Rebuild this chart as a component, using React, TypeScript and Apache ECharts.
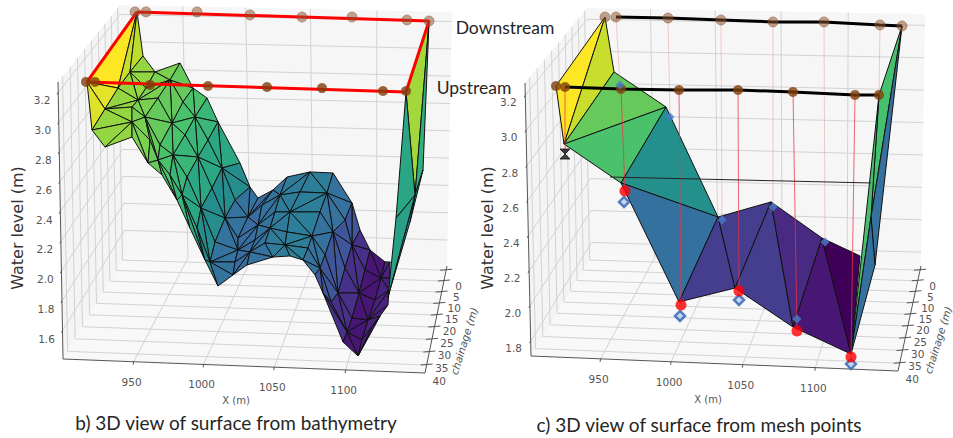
import React, { useEffect, useRef } from "react";
import * as echarts from "echarts";

// Tick labels of the three axes (both panels use the same X and chainage ticks)
const xTicks = [950, 1000, 1050, 1100];
const chainageTicks = [0, 5, 10, 15, 20, 25, 30, 35, 40];
const levelTicksB = [1.6, 1.8, 2.0, 2.2, 2.4, 2.6, 2.8, 3.0, 3.2];
const levelTicksC = [1.8, 2.0, 2.2, 2.4, 2.6, 2.8, 3.0, 3.2];

// A single projected view cannot give true (X, chainage, level) triples, so every
// mesh vertex and marker below is [apparent X, apparent level] read against the front plane.

// Panel b: bathymetry surface, one list per mesh column, from the upper to the lower edge
const bathyColumns: number[][][] = [
  [[955.6, 3.445], [946.5, 3.338], [938.1, 3.23], [929.0, 3.09], [919.9, 2.949], [929.0, 2.835]],
  [[964.0, 3.338], [957.7, 3.23], [952.1, 3.15], [947.9, 3.103], [947.9, 3.003], [947.9, 2.902]],
  [[981.5, 3.398], [974.5, 3.284], [966.1, 3.163], [957.0, 3.036], [960.5, 2.882], [959.1, 2.728]],
  [[990.6, 3.23], [983.6, 3.137], [975.9, 2.996], [967.5, 2.849], [966.1, 2.748], [968.9, 2.648]],
  [[1000.4, 3.163], [992.0, 3.036], [985.0, 2.916], [976.6, 2.782], [974.5, 2.648], [979.4, 2.48]],
  [[1008.1, 3.003], [1001.1, 2.882], [994.1, 2.768], [986.4, 2.634], [982.9, 2.514], [988.5, 2.292]],
  [[1023.5, 2.728], [1010.9, 2.694], [1003.9, 2.56], [996.2, 2.426], [993.4, 2.292], [999.0, 2.078]],
  [[1030.5, 2.567], [1020.0, 2.48], [1013.0, 2.359], [1006.0, 2.199], [1002.5, 2.065], [1008.1, 1.904]],
  [[1036.1, 2.493], [1029.1, 2.366], [1022.1, 2.225], [1022.1, 2.145], [1020.0, 2.065], [1018.6, 1.978]],
  [[1046.6, 2.547], [1038.9, 2.446], [1036.1, 2.313], [1034.0, 2.212], [1030.5, 2.132], [1028.4, 2.045]],
  [[1056.4, 2.634], [1051.5, 2.514], [1048.0, 2.4], [1044.5, 2.292], [1041.0, 2.192], [1046.6, 2.098]],
  [[1072.5, 2.668], [1065.5, 2.534], [1058.5, 2.4], [1056.4, 2.266], [1055.0, 2.179], [1058.5, 2.105]],
  [[1088.6, 2.661], [1084.4, 2.527], [1079.5, 2.4], [1073.9, 2.239], [1071.1, 2.158], [1067.6, 2.078]],
  [[1101.9, 2.46], [1097.0, 2.346], [1088.6, 2.266], [1083.0, 2.112], [1079.5, 2.024], [1076.0, 1.978]],
  [[1107.5, 2.279], [1101.9, 2.179], [1097.0, 2.024], [1092.1, 1.857], [1087.2, 1.797], [1081.6, 1.857]],
  [[1114.5, 2.145], [1111.0, 2.011], [1106.8, 1.857], [1101.9, 1.689], [1098.4, 1.596], [1095.6, 1.529]],
  [[1125.0, 2.065], [1122.2, 1.957], [1118.0, 1.81], [1113.1, 1.676], [1108.9, 1.542], [1106.1, 1.435]],
  [[1128.5, 2.065], [1128.5, 1.957], [1127.8, 1.877], [1127.1, 1.777], [1121.5, 1.703], [1115.9, 1.629]],
];
// Shade (0 = lowest level, 1 = highest level) of each column above
const bathyShade = [0.86, 0.82, 0.78, 0.74, 0.68, 0.62, 0.55, 0.42, 0.32, 0.34, 0.4, 0.43, 0.41, 0.32, 0.2, 0.12, 0.03, 0.2];
// Bank vertices: top-left bank, upstream-left bank, then the right bank wall
const bathyBank = [
  [951.4, 3.74], [916.4, 3.271], [1139.7, 3.204], [1155.8, 3.673], [1146.0, 2.513],
  [1132.7, 2.359], [1127.1, 1.83], [1151.6, 2.681], [1142.5, 2.333],
];
// [vertex, vertex, vertex, shade]; 108+ index the bank list, 0..5 the first column
const bathyBankLeftFaces = [
  [108, 109, 2, 1], [108, 2, 1, 0.92], [108, 1, 0, 0.9], [109, 2, 3, 0.96], [109, 3, 4, 0.95],
];
const bathyBankRightFaces = [
  [110, 111, 112, 0.86], [111, 112, 115, 0.62], [112, 115, 116, 0.5], [112, 116, 114, 0.42],
  [110, 113, 112, 0.58], [113, 112, 114, 0.56],
];
const bathyUpstream = [
  [915.7, 3.271], [922.0, 3.271], [960.5, 3.251], [1001.1, 3.244],
  [1042.4, 3.237], [1080.9, 3.23], [1123.6, 3.21], [1139.7, 3.21],
];
const bathyDownstream = [
  [950.0, 3.74], [957.7, 3.74], [993.4, 3.74], [1030.5, 3.72],
  [1066.9, 3.706], [1101.9, 3.706], [1140.4, 3.686], [1155.8, 3.679],
];
const bathyRedFrame = [[951.4, 3.74], [1155.8, 3.679], [1139.7, 3.204], [916.4, 3.271], [951.4, 3.74]];

// Panel c: surface from mesh points
const meshVertices = [
  [951.5, 3.648], [917.2, 3.255], [922.8, 2.924], [957.8, 3.335], [994.2, 3.135], [962.7, 2.702],
  [1030.6, 2.508], [1003.3, 2.024], [1042.5, 2.103], [1067.7, 2.594], [1083.1, 1.881], [1103.4, 2.388],
  [1123.7, 1.727], [1130.0, 2.286], [1159.4, 3.597], [1143.3, 3.203], [1137.7, 2.508], [1140.5, 2.234],
];
const meshFaces = [
  [0, 1, 2, 1], [0, 2, 3, 0.92], [2, 3, 4, 0.76], [2, 4, 5, 0.71], [5, 4, 6, 0.5], [5, 6, 7, 0.36],
  [6, 7, 8, 0.2], [6, 8, 9, 0.2], [8, 9, 10, 0.2], [9, 10, 11, 0.14], [10, 11, 12, 0.08], [11, 12, 13, 0],
  [14, 15, 16, 0.7], [15, 16, 12, 0.7], [14, 16, 17, 0.36], [16, 17, 12, 0.36],
];
const meshUpstream = [
  [917.2, 3.255], [923.5, 3.249], [962.7, 3.238], [1003.3, 3.232],
  [1044.6, 3.232], [1083.1, 3.221], [1126.5, 3.204], [1143.3, 3.204],
];
const meshDownstream = [
  [951.5, 3.648], [959.2, 3.648], [995.6, 3.642], [1032.7, 3.631],
  [1069.1, 3.62], [1104.8, 3.62], [1144.0, 3.603], [1159.4, 3.597],
];
const meshRedDots = [[965.5, 2.656], [1004.7, 2.007], [1045.3, 2.086], [1085.9, 1.858], [1123.7, 1.71]];
const meshLowDiamonds = [[964.8, 2.594], [1004.0, 1.944], [1045.3, 2.035], [1123.7, 1.67]];
const meshSurfaceDiamonds = [[962.0, 3.261], [997.0, 3.078], [1033.4, 2.491], [1069.1, 2.565], [1105.5, 2.366], [1085.9, 1.927]];
const meshFaintEnds = [[962.0, 3.261], [997.0, 3.078], [1033.4, 2.491], [1069.1, 2.565], [1105.5, 2.366], [1143.3, 3.203]];
const meshHourglass = [[923.5, 2.867]];
const meshThinLine = [[955.0, 2.736], [1137.7, 2.702]];

const SHADES = ["#3f0158", "#4a1c7c", "#453e8e", "#3d66a2", "#30799c", "#23908c", "#2cab82", "#45c06e", "#7ad14f", "#bcdc2e", "#fde725"];
const shadeColor = (t: number) => echarts.color.lerp(Math.max(0, Math.min(1, t)), SHADES) as string;

type Pt = number[];
function homography(p: Pt[]) {
  const [[x0, y0], [x1, y1], [x2, y2], [x3, y3]] = p;
  const dx1 = x1 - x2, dx2 = x3 - x2, sx = x0 - x1 + x2 - x3;
  const dy1 = y1 - y2, dy2 = y3 - y2, sy = y0 - y1 + y2 - y3;
  const den = dx1 * dy2 - dx2 * dy1;
  const g = (sx * dy2 - dx2 * sy) / den;
  const h = (dx1 * sy - sx * dy1) / den;
  const a = x1 - x0 + g * x1, b = x3 - x0 + h * x3;
  const d = y1 - y0 + g * y1, e = y3 - y0 + h * y3;
  return (u: number, v: number) => {
    const w = g * u + h * v + 1;
    return [(a * u + b * v + x0) / w, (d * u + e * v + y0) / w];
  };
}

type Box = {
  floor: Pt[]; top: Pt[];
  xLim: number[]; cLim: number[]; zLim: number[];
  zTicks: number[];
  zLabelOffset: number[]; xLabelOffset: number[]; cLabelOffset: number[];
  titleX: number; titleY: number; xTitle: number[]; cTitle: number[];
};

const boxB: Box = {
  floor: [[125, 256], [447, 266], [425, 373], [63, 359]],
  top: [[120, 5], [452, 12], [430, 96], [58, 82]],
  xLim: [899, 1155], cLim: [-2, 43], zLim: [1.41, 3.27],
  zTicks: levelTicksB,
  zLabelOffset: [-16, 8], xLabelOffset: [-2, 20], cLabelOffset: [12.5, 16],
  titleX: 17, titleY: 228, xTitle: [236, 400], cTitle: [464, 341],
};
const boxC: Box = {
  floor: [[592, 256], [921, 266], [898, 371], [531, 356]],
  top: [[587, 8], [925, 14], [903, 94], [525, 83]],
  xLim: [900, 1156], cLim: [-2, 43], zLim: [1.715, 3.27],
  zTicks: levelTicksC,
  zLabelOffset: [-17, 7], xLabelOffset: [-2, 20], cLabelOffset: [12.5, 16],
  titleX: 487, titleY: 228, xTitle: [708, 399], cTitle: [938, 340],
};

function frameChildren(b: Box) {
  const fl = homography(b.floor), tp = homography(b.top);
  const P = (x: number, c: number, z: number) => {
    const u = (x - b.xLim[0]) / (b.xLim[1] - b.xLim[0]);
    const v = (c - b.cLim[0]) / (b.cLim[1] - b.cLim[0]);
    const w = (z - b.zLim[0]) / (b.zLim[1] - b.zLim[0]);
    const f = fl(u, v), t = tp(u, v);
    return [f[0] + (t[0] - f[0]) * w, f[1] + (t[1] - f[1]) * w];
  };
  const [x0, x1] = b.xLim, [c0, c1] = b.cLim, [z0, z1] = b.zLim;
  const out: any[] = [];
  const poly = (pts: Pt[], fill: string) => out.push({ type: "polygon", shape: { points: pts }, style: { fill, stroke: "none" } });
  const line = (p: Pt, q: Pt, stroke: string, lineWidth = 1) =>
    out.push({ type: "line", shape: { x1: p[0], y1: p[1], x2: q[0], y2: q[1] }, style: { stroke, lineWidth } });
  const text = (s: string, p: Pt, font: string, fill = "#555555", rotation = 0) =>
    out.push({ type: "text", x: p[0], y: p[1], rotation, style: { text: s, font, fill, align: "center", verticalAlign: "middle" } });

  poly([P(x0, c0, z0), P(x1, c0, z0), P(x1, c0, z1), P(x0, c0, z1)], "#f6f6f6");
  poly([P(x0, c0, z0), P(x0, c1, z0), P(x0, c1, z1), P(x0, c0, z1)], "#f4f4f4");
  poly([P(x0, c0, z0), P(x1, c0, z0), P(x1, c1, z0), P(x0, c1, z0)], "#f8f8f8");

  const grid = "#d2d2d2";
  xTicks.forEach((x) => {
    line(P(x, c1, z0), P(x, c0, z0), grid);
    line(P(x, c0, z0), P(x, c0, z1), grid);
  });
  chainageTicks.forEach((c) => {
    line(P(x0, c, z0), P(x1, c, z0), grid);
    line(P(x0, c, z0), P(x0, c, z1), grid);
  });
  b.zTicks.forEach((z) => {
    line(P(x0, c1, z), P(x0, c0, z), grid);
    line(P(x0, c0, z), P(x1, c0, z), grid);
  });

  const axis = "#555555";
  line(P(x0, c1, z0), P(x0, c1, z1), axis);
  line(P(x0, c1, z0), P(x1, c1, z0), axis);
  line(P(x1, c0, z0), P(x1, c1, z0), axis);

  const font = '10.5px "DejaVu Sans"';
  xTicks.forEach((x) => {
    const p = P(x, c1, z0);
    line(p, [p[0] - 0.5, p[1] + 3], axis);
    text(String(x), [p[0] + b.xLabelOffset[0], p[1] + b.xLabelOffset[1]], font);
  });
  chainageTicks.forEach((c) => {
    const p = P(x1, c, z0);
    line([p[0] - 6, p[1]], [p[0] + 6, p[1] - 1], axis);
    text(String(c), [p[0] + b.cLabelOffset[0], p[1] + b.cLabelOffset[1]], font);
  });
  b.zTicks.forEach((z) => {
    const p = P(x0, c1, z);
    line(p, [p[0] - 1, p[1] + 2], axis);
    text(z.toFixed(1), [p[0] + b.zLabelOffset[0], p[1] + b.zLabelOffset[1]], font);
  });
  text("Water level (m)", [b.titleX, b.titleY], '16px "DejaVu Sans"', "#333333", Math.PI / 2);
  text("X (m)", b.xTitle, '10px "DejaVu Sans"');
  text("chainage (m)", b.cTitle, 'italic 10.5px "DejaVu Sans"', "#555555", 1.27);
  return out;
}

const frameSeries = (b: Box, z: number) => ({
  type: "custom",
  coordinateSystem: "none",
  silent: true,
  z,
  data: [[0]],
  renderItem: () => ({ type: "group", children: frameChildren(b) }),
});

const faceSeries = (vertices: number[][], faces: number[][], axis: number) => ({
  type: "custom",
  coordinateSystem: "cartesian2d",
  xAxisIndex: axis,
  yAxisIndex: axis,
  clip: false,
  silent: true,
  z: 3,
  data: faces.map((f) => [vertices[f[0]][0], vertices[f[0]][1]]),
  renderItem: (params: any, api: any) => {
    const f = faces[params.dataIndex];
    return {
      type: "polygon",
      shape: { points: [f[0], f[1], f[2]].map((i) => api.coord(vertices[i])) },
      style: { fill: shadeColor(f[3]), stroke: "#111111", lineWidth: 1, lineJoin: "round" },
    };
  },
});

const segmentSeries = (segs: number[][], axis: number, color: string, width: number, opacity: number, z: number) => ({
  type: "custom",
  coordinateSystem: "cartesian2d",
  xAxisIndex: axis,
  yAxisIndex: axis,
  clip: false,
  silent: true,
  z,
  data: segs,
  renderItem: (_: any, api: any) => {
    const a = api.coord([api.value(0), api.value(1)]);
    const b = api.coord([api.value(2), api.value(3)]);
    return { type: "line", shape: { x1: a[0], y1: a[1], x2: b[0], y2: b[1] }, style: { stroke: color, lineWidth: width, opacity } };
  },
});

const pathSeries = (data: number[][], axis: number, color: string, width: number) => ({
  type: "line",
  xAxisIndex: axis,
  yAxisIndex: axis,
  data,
  showSymbol: false,
  silent: true,
  z: 5,
  clip: false,
  lineStyle: { color, width },
});

const pointSeries = (data: number[][], axis: number, symbol: string, size: number | number[], itemStyle: any, z = 6) => ({
  type: "scatter",
  xAxisIndex: axis,
  yAxisIndex: axis,
  data,
  symbol,
  symbolSize: size,
  silent: true,
  clip: false,
  z,
  itemStyle,
});

const hidden = (min: number, max: number, gridIndex: number) => ({ type: "value", show: false, min, max, gridIndex, scale: true });

function bathyFaces() {
  const nRows = bathyColumns[0].length;
  const id = (c: number, r: number) => c * nRows + r;
  const faces: number[][] = [...bathyBankLeftFaces];
  for (let c = 0; c < bathyColumns.length - 1; c++) {
    const t = (bathyShade[c] + bathyShade[c + 1]) / 2;
    for (let r = 0; r < nRows - 1; r++) {
      const a = id(c, r), b = id(c + 1, r), d = id(c + 1, r + 1), e = id(c, r + 1);
      if ((c + r) % 2) faces.push([a, b, d, t], [a, d, e, t]);
      else faces.push([a, b, e, t], [b, d, e, t]);
    }
  }
  return faces.concat(bathyBankRightFaces);
}

const brownNear = { color: "#7f3f0d" };
const brownFar = { color: "rgba(140,80,40,0.65)", borderColor: "rgba(130,80,50,0.6)", borderWidth: 1 };
const labelText = (text: string, x: number, y: number, size: number) => ({
  type: "text",
  x,
  y,
  z: 100,
  silent: true,
  style: { text, font: `${size}px Lato`, fill: "#262626", align: "center", verticalAlign: "middle" },
});

export default function App() {
  const ref = useRef<HTMLDivElement>(null);
  useEffect(() => {
    document.body.style.margin = "0";
    const chart = echarts.init(ref.current!, undefined, { renderer: "svg" });
    const bathyVertices = ([] as number[][]).concat(...bathyColumns, bathyBank);
    chart.setOption({
      animation: false,
      backgroundColor: "#ffffff",
      grid: [
        { left: 0, top: 0, width: 476, height: 438 },
        { left: 476, top: 0, width: 477, height: 438 },
      ],
      xAxis: [hidden(855.5, 855.5 + 0.7 * 476, 0), hidden(528 + 0.7 * 476, 528 + 0.7 * 953, 1)],
      yAxis: [hidden(3.82 - 0.0067 * 438, 3.82, 0), hidden(3.745 - 0.0057 * 438, 3.745, 1)],
      series: [
        frameSeries(boxB, 1),
        frameSeries(boxC, 1),
        faceSeries(bathyVertices, bathyFaces(), 0),
        faceSeries(meshVertices, meshFaces, 1),
        pathSeries(bathyRedFrame, 0, "#ff0000", 3),
        pointSeries(bathyUpstream, 0, "circle", 10, brownNear),
        pointSeries(bathyDownstream, 0, "circle", 10, brownFar),
        pathSeries(meshUpstream.slice(1), 1, "#000000", 3),
        pathSeries(meshDownstream.slice(1), 1, "#000000", 3),
        pathSeries(meshThinLine, 1, "#222222", 1),
        segmentSeries(meshDownstream.slice(1, 7).map((p, i) => [p[0], p[1], meshFaintEnds[i][0], meshFaintEnds[i][1]]), 1, "#f08080", 1, 0.4, 4),
        segmentSeries(meshUpstream.slice(2, 7).map((p, i) => [p[0], p[1], meshRedDots[i][0], meshRedDots[i][1]]), 1, "#ee3344", 1, 0.75, 4),
        segmentSeries([[meshUpstream[1][0], meshUpstream[1][1], meshHourglass[0][0], meshHourglass[0][1]]], 1, "#ee3344", 1, 0.75, 4),
        pointSeries(meshUpstream, 1, "circle", 10, brownNear),
        pointSeries(meshDownstream, 1, "circle", 10, brownFar),
        pointSeries(meshRedDots, 1, "circle", 11, { color: "#ff0000" }),
        pointSeries(meshLowDiamonds, 1, "diamond", 10, { color: "#b8cdee", borderColor: "#2f62b0", borderWidth: 2.5 }, 5),
        pointSeries(meshSurfaceDiamonds, 1, "diamond", 9, { color: "#4a7cc8" }, 7),
        pointSeries(meshHourglass, 1, "path://M0 0H10L0 10H10Z", [10, 10], { color: "#111111", borderColor: "#111111" }),
      ],
      graphic: [
        labelText("Downstream", 505, 27, 17.5),
        labelText("Upstream", 474, 87, 17.5),
        labelText("b) 3D view of surface from bathymetry", 236, 422, 19),
        labelText("c) 3D view of surface from mesh points", 699, 424, 19),
      ],
    });
    return () => chart.dispose();
  }, []);
  return <div ref={ref} style={{ position: "absolute", left: 0, top: 0, width: 953, height: 438 }} />;
}
